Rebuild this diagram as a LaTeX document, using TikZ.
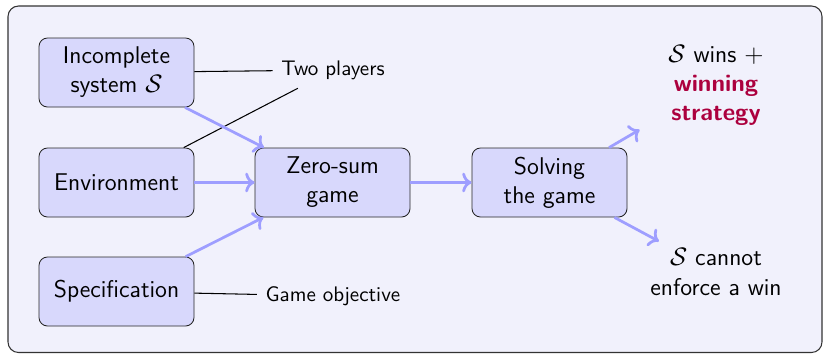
\documentclass[tikz,border=0pt]{standalone}
\usetikzlibrary{arrows.meta}
\definecolor{bgc}{RGB}{241,241,252}
\definecolor{boxc}{RGB}{216,216,252}
\definecolor{arrc}{RGB}{158,158,255}
\definecolor{alertc}{RGB}{172,0,62}
\tikzset{
  every node/.style={font=\sffamily\fontsize{11.5}{13.8}\selectfont},
  box/.style={draw=black!85, fill=boxc, rounded corners=4pt, minimum width=155*0.475pt, minimum height=69*0.475pt, align=center, inner sep=0pt},
  lbl/.style={font=\sffamily\fontsize{10}{12}\selectfont, inner sep=4pt},
  res/.style={align=center, minimum width=152*0.475pt},
  flow/.style={draw=arrc, line width=1.3pt, ->},
  link/.style={draw=black, line width=0.5pt}
}
\begin{document}
\begin{tikzpicture}[x=0.475pt,y=-0.475pt]
\useasboundingbox (0,0) rectangle (823,355);
\draw[fill=bgc, draw=black!80, rounded corners=5pt, line width=0.5pt] (8,6) rectangle (822,352.5);
\node[box] (inc) at (116.5,72.5) {Incomplete\\system $\mathcal{S}$};
\node[box] (env) at (116.5,182.5) {Environment};
\node[box] (spec) at (116.5,291.5) {Specification};
\node[box] (zs) at (332.5,182.5) {Zero-sum\\game};
\node[box] (solve) at (549.5,182.5) {Solving\\the game};
\node[lbl] (two) at (333,70) {Two players};
\node[lbl] (obj) at (333,296) {Game objective};
\node[res] (win) at (716,85) {$\mathcal{S}$ wins $+$\\\textcolor{alertc}{\bfseries winning}\\\textcolor{alertc}{\bfseries strategy}};
\node[res] (lose) at (716,272) {$\mathcal{S}$ cannot\\enforce a win};
\draw[link] (inc) -- (two);
\draw[link] (env) -- (two);
\draw[link] (spec) -- (obj);
\draw[flow] (inc) -- (zs);
\draw[flow] (env) -- (zs);
\draw[flow] (spec) -- (zs);
\draw[flow] (zs) -- (solve);
\draw[flow] (solve) -- (win);
\draw[flow] (solve) -- (lose);
\end{tikzpicture}
\end{document}
